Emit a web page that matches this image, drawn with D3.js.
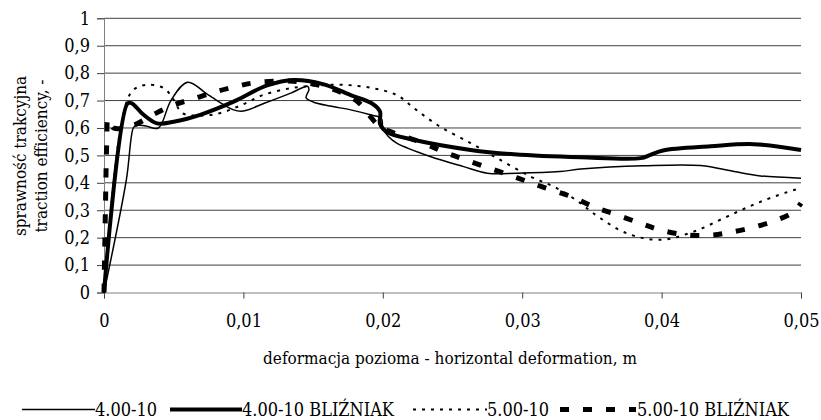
<!DOCTYPE html>
<html>
<head>
<meta charset="utf-8">
<script src="https://cdn.jsdelivr.net/npm/d3@7"></script>
<style>
  body { margin: 0; background: #fff; }
</style>
</head>
<body>
<svg id="chart" width="821" height="420"></svg>
<script>

// 4.00-10
const s1 = [
  [0, 0], [0.0016, 0.41], [0.0021, 0.6], [0.0023, 0.61], [0.003, 0.607], [0.0039, 0.6],
  [0.0048, 0.7], [0.006, 0.767], [0.0075, 0.72], [0.0093, 0.666], [0.01, 0.662],
  [0.0115, 0.69], [0.0134, 0.727], [0.0146, 0.752], [0.0147, 0.74], [0.0145, 0.71],
  [0.015, 0.695], [0.0162, 0.68], [0.0177, 0.666], [0.0191, 0.648], [0.0199, 0.635],
  [0.02, 0.6], [0.0204, 0.569], [0.021, 0.545], [0.0234, 0.496], [0.0258, 0.459],
  [0.0275, 0.435], [0.0296, 0.435], [0.0327, 0.441], [0.0342, 0.45], [0.0387, 0.462],
  [0.0428, 0.463], [0.0452, 0.441], [0.0471, 0.425], [0.05, 0.417]
];

// 4.00-10 BLIŹNIAK
const s2 = [
  [0, 0], [0.0017, 0.69], [0.002, 0.69], [0.0028, 0.65], [0.0038, 0.617], [0.005, 0.623],
  [0.0069, 0.648], [0.0093, 0.696], [0.0117, 0.755], [0.0136, 0.775], [0.0157, 0.76],
  [0.0177, 0.72], [0.0192, 0.69], [0.0198, 0.66], [0.0198, 0.615], [0.0203, 0.585],
  [0.0222, 0.557], [0.0263, 0.52], [0.0294, 0.504], [0.0342, 0.493], [0.0385, 0.49],
  [0.0392, 0.502], [0.0401, 0.518], [0.0435, 0.533], [0.0466, 0.541], [0.05, 0.52]
];

// 5.00-10
const s3 = [
  [0, 0], [0.0012, 0.6], [0.002, 0.733], [0.003, 0.757], [0.0043, 0.745], [0.005, 0.703],
  [0.0056, 0.655], [0.0069, 0.645], [0.0083, 0.654], [0.0098, 0.682], [0.0114, 0.72],
  [0.0134, 0.745], [0.0153, 0.755], [0.0173, 0.757], [0.0193, 0.745], [0.021, 0.72],
  [0.0224, 0.666], [0.0241, 0.605], [0.0263, 0.545], [0.0282, 0.49], [0.0306, 0.423],
  [0.0325, 0.38], [0.0342, 0.325], [0.0351, 0.289], [0.0375, 0.216], [0.0399, 0.192],
  [0.0423, 0.222], [0.0447, 0.277], [0.0471, 0.331], [0.0495, 0.374], [0.05, 0.38]
];

// 5.00-10 BLIŹNIAK
const s4 = [
  [0, 0], [0.0001, 0.3], [0.0002, 0.55], [0.0003, 0.635], [0.0007, 0.6], [0.0021, 0.61],
  [0.0035, 0.648], [0.005, 0.684], [0.0064, 0.706], [0.0078, 0.729], [0.0093, 0.749],
  [0.0107, 0.764], [0.0136, 0.77], [0.0162, 0.745], [0.0182, 0.696], [0.0191, 0.642],
  [0.0198, 0.605], [0.0229, 0.545], [0.0245, 0.51], [0.0261, 0.481], [0.028, 0.447],
  [0.0297, 0.417], [0.0314, 0.386], [0.0335, 0.35], [0.0351, 0.313], [0.0368, 0.283],
  [0.0385, 0.252], [0.0399, 0.228], [0.0418, 0.21], [0.0437, 0.21], [0.0449, 0.219],
  [0.0466, 0.238], [0.0483, 0.265], [0.0495, 0.295], [0.05, 0.326]
];

const seriesNames = ["4.00-10", "4.00-10 BLIŹNIAK", "5.00-10", "5.00-10 BLIŹNIAK"];
const xTicks = [0, 0.01, 0.02, 0.03, 0.04, 0.05];
const yTicks = [0, 0.1, 0.2, 0.3, 0.4, 0.5, 0.6, 0.7, 0.8, 0.9, 1];

const styles = [
  { width: 1.5, dash: null },
  { width: 4, dash: null },
  { width: 2, dash: "3,6" },
  { width: 5, dash: "9,14" }
];

const FONT = "'DejaVu Serif Condensed', 'DejaVu Serif', serif";

const svg = d3.select("#chart");

const x = d3.scaleLinear().domain([0, 0.05]).range([104, 801]);
const y = d3.scaleLinear().domain([0, 1]).range([292.5, 18.3]);

const fmt = d => d3.format("")(d).replace(".", ",");

// gridlines
svg.append("g")
  .selectAll("line")
  .data(yTicks.filter(d => d > 0))
  .enter()
  .append("line")
  .attr("x1", x(0)).attr("x2", x(0.05))
  .attr("y1", d => y(d)).attr("y2", d => y(d))
  .attr("stroke", "#404040").attr("stroke-width", 1);

// y axis
const yAxis = svg.append("g")
  .attr("transform", `translate(${x(0)},0)`)
  .call(d3.axisLeft(y).tickValues(yTicks).tickSize(7).tickPadding(7).tickFormat(fmt));

// x axis
const xAxis = svg.append("g")
  .attr("transform", `translate(0,${y(0)})`)
  .call(d3.axisBottom(x).tickValues(xTicks).tickSize(6).tickPadding(16).tickFormat(fmt));

[yAxis, xAxis].forEach(a => {
  a.attr("font-family", FONT).attr("font-size", 18);
  a.select(".domain").attr("stroke", "#808080").attr("stroke-width", 1);
  a.selectAll(".tick line").attr("stroke", "#404040");
  a.selectAll("text").attr("fill", "#000");
});

// series
const line = d3.line()
  .x(d => x(d[0]))
  .y(d => y(d[1]))
  .curve(d3.curveCatmullRom.alpha(0.5));

[s1, s2, s3, s4].forEach((s, i) => {
  svg.append("path")
    .datum(s)
    .attr("fill", "none")
    .attr("stroke", "#000")
    .attr("stroke-width", styles[i].width)
    .attr("stroke-dasharray", styles[i].dash)
    .attr("stroke-linejoin", "round")
    .attr("d", line);
});

// axis titles
svg.append("text")
  .attr("x", 450).attr("y", 364)
  .attr("text-anchor", "middle")
  .attr("font-family", FONT)
  .attr("font-size", 17)
  .text("deformacja pozioma - horizontal deformation, m");

svg.append("text")
  .attr("transform", "translate(26,156) rotate(-90)")
  .attr("text-anchor", "middle")
  .attr("font-family", FONT)
  .attr("font-size", 17)
  .text("sprawność trakcyjna");

svg.append("text")
  .attr("transform", "translate(47,156) rotate(-90)")
  .attr("text-anchor", "middle")
  .attr("font-family", FONT)
  .attr("font-size", 17)
  .text("traction efficiency, -");

// legend
const legendItems = [
  { x1: 22, x2: 95, tx: 95 },
  { x1: 170, x2: 242, tx: 242 },
  { x1: 413, x2: 487, tx: 487 },
  { x1: 560, x2: 636, tx: 637 }
];

const legend = svg.append("g");
legendItems.forEach((d, i) => {
  legend.append("line")
    .attr("x1", d.x1).attr("x2", d.x2)
    .attr("y1", 409.5).attr("y2", 409.5)
    .attr("stroke", "#000")
    .attr("stroke-width", styles[i].width)
    .attr("stroke-dasharray", styles[i].dash);
  legend.append("text")
    .attr("x", d.tx).attr("y", 415.5)
    .attr("font-family", FONT)
    .attr("font-size", 18)
    .text(seriesNames[i]);
});

</script>
</body>
</html>
